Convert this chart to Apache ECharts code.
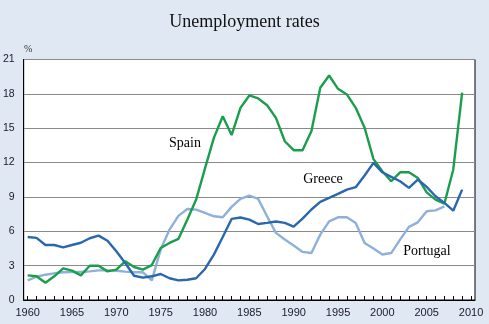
<!DOCTYPE html>
<html>
<head>
<meta charset="utf-8">
<script src="https://cdn.jsdelivr.net/npm/echarts@6/dist/echarts.min.js"></script>
<style>
html,body{margin:0;padding:0;background:#e0e8f4;}
#c{width:489px;height:324px;}
</style>
</head>
<body>
<div id="c"></div>
<script>
var titleText = "Unemployment rates";
var unitLabel = "%";
var years = [];
for (var y = 1960; y <= 2009; y++) years.push(y);
var xTickLabels = [1960, 1965, 1970, 1975, 1980, 1985, 1990, 1995, 2000, 2005, 2010];
var xTickYears = [];
for (var t = 1960; t <= 2010; t++) xTickYears.push(t);
var yTickLabels = [0, 3, 6, 9, 12, 15, 18, 21];

var spain = [2.15,2.07,1.5,2.07,2.76,2.56,2.15,2.99,2.99,2.5,
             2.65,3.38,2.88,2.65,3.05,4.54,4.98,5.33,7.0,8.77,
             11.5,14.16,16.05,14.4,16.78,17.86,17.6,17.01,15.9,13.86,
             13.08,13.08,14.74,18.53,19.6,18.44,17.95,16.78,15.04,12.3,
             11.24,10.37,11.15,11.15,10.66,9.4,8.77,8.42,11.4,18.1];
var greece = [5.5,5.42,4.8,4.8,4.6,4.8,5.0,5.39,5.62,5.18,
              4.25,3.23,2.12,1.95,2.07,2.27,1.9,1.71,1.77,1.9,
              2.71,3.96,5.5,7.08,7.2,7.02,6.64,6.73,6.85,6.73,
              6.41,7.1,7.9,8.57,8.91,9.26,9.64,9.85,10.87,11.97,
              11.15,10.75,10.37,9.79,10.52,9.88,9.06,8.48,7.8,9.64];
var portugal = [1.71,2.03,2.21,2.33,2.42,2.45,2.45,2.5,2.59,2.59,
                2.56,2.48,2.42,2.42,1.71,4.4,6.15,7.35,7.95,7.89,
                7.6,7.31,7.22,8.13,8.83,9.12,8.83,7.31,5.86,5.28,
                4.75,4.2,4.1,5.71,6.87,7.22,7.22,6.73,4.98,4.49,
                3.97,4.1,5.27,6.38,6.78,7.75,7.83,8.18];
var seriesNames = ["Portugal", "Spain", "Greece"];

function pairs(vals) {
  return vals.map(function (v, i) { return [years[i], v]; });
}

var chart = echarts.init(document.getElementById('c'), null, {renderer: 'canvas'});
var lineStyleBase = {width: 2.4};
chart.setOption({
  backgroundColor: '#e0e8f4',
  animation: false,
  title: {
    text: titleText, left: 'center', top: 8,
    textStyle: {fontFamily: 'Liberation Serif', fontSize: 18, fontWeight: 'normal', color: '#111'}
  },
  grid: {
    left: 22, right: 14, top: 59.5, bottom: 24,
    show: true, backgroundColor: '#ffffff', borderColor: '#000', borderWidth: 1
  },
  xAxis: {
    type: 'value', min: 1959.55, max: 2010.45,
    axisLine: {show: true, lineStyle: {color: '#000', width: 1}},
    axisTick: {show: true, inside: true, length: 4, customValues: xTickYears, lineStyle: {color: '#000'}},
    axisLabel: {customValues: xTickLabels, fontFamily: 'Liberation Sans', fontSize: 11, color: '#1a1a2a', margin: 7,
      formatter: function (v) { return String(v); }},
    splitLine: {show: false}
  },
  yAxis: {
    type: 'value', min: 0, max: 21, interval: 3,
    axisLine: {show: true, lineStyle: {color: '#000', width: 1}},
    axisTick: {show: false},
    axisLabel: {fontFamily: 'Liberation Sans', fontSize: 10.5, color: '#1a1a2a', margin: 9,
      formatter: function (v) { return yTickLabels.indexOf(v) >= 0 ? String(v) : ''; }},
    splitLine: {show: true, lineStyle: {color: '#8a8a8a', width: 1}}
  },
  series: [
    {name: seriesNames[0], type: 'line', data: pairs(portugal), symbol: 'none',
     lineStyle: Object.assign({color: '#8eb0d9'}, lineStyleBase), itemStyle: {color: '#8eb0d9'}},
    {name: seriesNames[1], type: 'line', data: pairs(spain), symbol: 'none',
     lineStyle: Object.assign({color: '#1b9e4b'}, lineStyleBase), itemStyle: {color: '#1b9e4b'}},
    {name: seriesNames[2], type: 'line', data: pairs(greece), symbol: 'none',
     lineStyle: Object.assign({color: '#2a67ad'}, lineStyleBase), itemStyle: {color: '#2a67ad'}}
  ],
  graphic: [
    {type: 'text', left: 24, top: 44, style: {text: unitLabel, font: '10px Liberation Serif', fill: '#333'}},
    {type: 'text', x: 185, y: 143, style: {text: 'Spain', font: '14px Liberation Serif', fill: '#000', align: 'center', verticalAlign: 'middle'}},
    {type: 'text', x: 323, y: 179, style: {text: 'Greece', font: '14px Liberation Serif', fill: '#000', align: 'center', verticalAlign: 'middle'}},
    {type: 'text', x: 427, y: 251, style: {text: 'Portugal', font: '14px Liberation Serif', fill: '#000', align: 'center', verticalAlign: 'middle'}}
  ]
});
</script>
</body>
</html>
